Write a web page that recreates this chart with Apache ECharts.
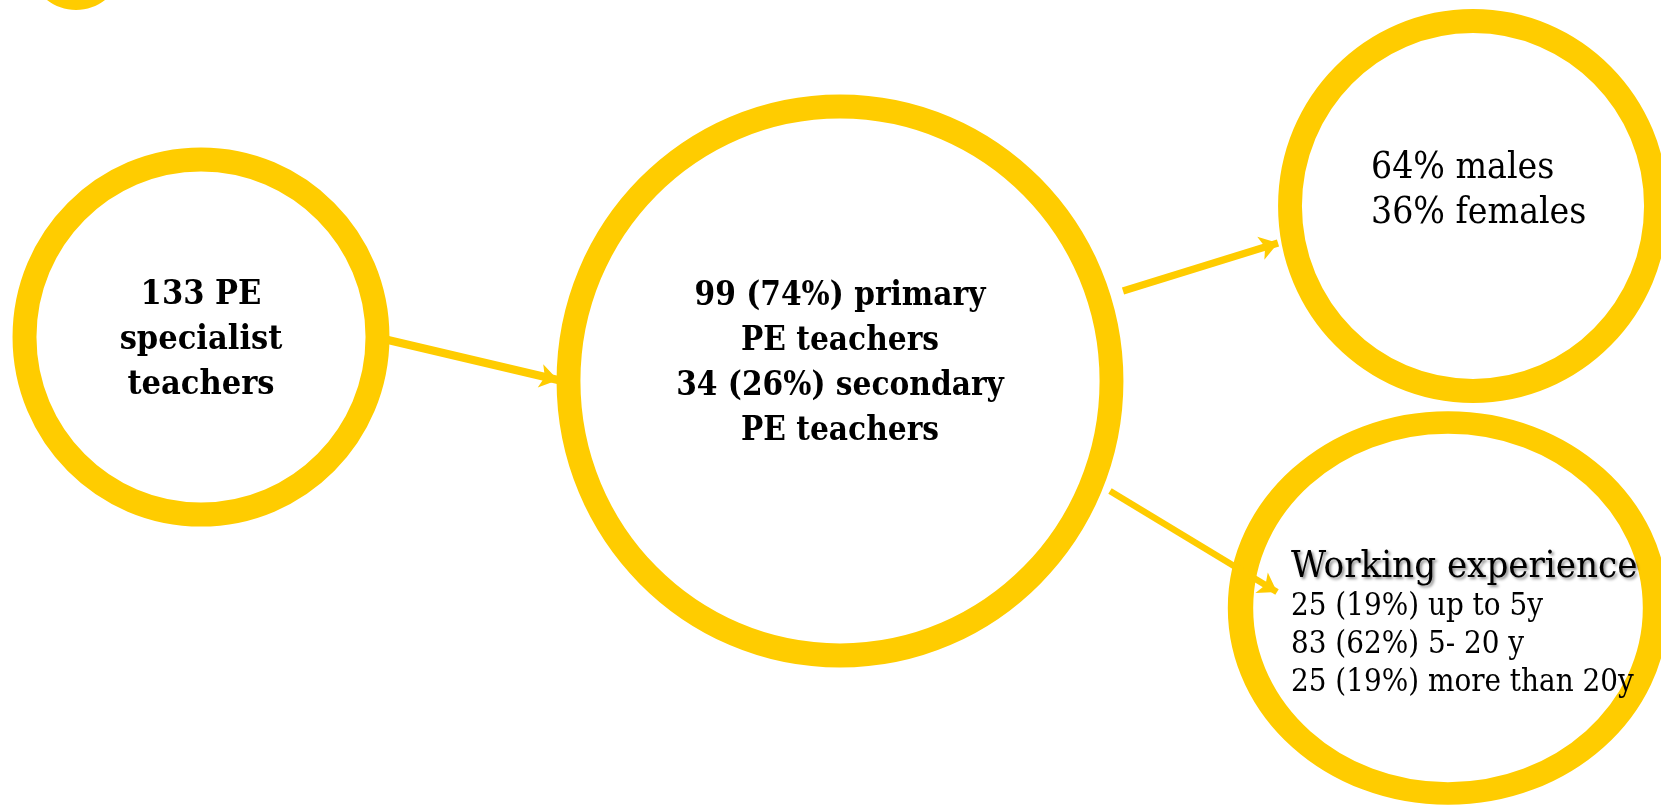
<!DOCTYPE html>
<html>
<head>
<meta charset="utf-8">
<title>PE teachers sample</title>
<script src="https://cdn.jsdelivr.net/npm/echarts@6/dist/echarts.min.js"></script>
<style>
  html, body { margin: 0; padding: 0; background: #fff; }
  #chart { width: 1661px; height: 809px; }
</style>
</head>
<body>
<div id="chart"></div>
<script>
// sample figures
const totalTeachers = 133;
const levelNames = ['primary', 'secondary'];
const levelCounts = [99, 34];
const levelShares = [74, 26];
const genderNames = ['males', 'females'];
const genderShares = [64, 36];
const experienceTitle = 'Working experience';
const experienceBands = ['up to 5y', '5- 20 y', 'more than 20y'];
const experienceCounts = [25, 83, 25];
const experienceShares = [19, 62, 19];

// diagram layout (axis units = pixels of the 1661x809 picture)
const nodeCenters = [[76, -37], [201, 337], [840, 381], [1473, 206], [1448, 608]];
const nodeSizes = [[94, 94], [353, 355], [543, 549], [366, 370], [415, 371]];
const arrowLinks = [
    [[388, 340], [558, 380]],
    [[1123, 291], [1278, 243]],
    [[1110, 491], [1277, 592]]
];
const arrowWidths = [8, 7.5, 6.5];

const YELLOW = '#FFCC00';
const FONT = "'DejaVu Serif Condensed', 'DejaVu Serif', serif";
const ELLIPSE = 'path://M1,0 C1.5523,0 2,0.4477 2,1 C2,1.5523 1.5523,2 1,2 C0.4477,2 0,1.5523 0,1 C0,0.4477 0.4477,0 1,0 Z';

let totalText = totalTeachers + ' PE\nspecialist\nteachers';
let levelText = [];
for (let i = 0; i < levelNames.length; i++) {
    levelText.push(levelCounts[i] + ' (' + levelShares[i] + '%) ' + levelNames[i]);
    levelText.push('PE teachers');
}
let genderText = [];
for (let i = 0; i < genderNames.length; i++) {
    genderText.push(genderShares[i] + '% ' + genderNames[i]);
}
let expText = ['{h|' + experienceTitle + '}'];
for (let i = 0; i < experienceBands.length; i++) {
    expText.push('{b|' + experienceCounts[i] + ' (' + experienceShares[i] + '%) ' + experienceBands[i] + '}');
}

const labels = [
    { show: false },
    {
        show: true, position: 'inside', formatter: totalText,
        fontFamily: FONT, fontWeight: 'bold', fontSize: 34, lineHeight: 45, color: '#000',
        offset: [0, 3]
    },
    {
        show: true, position: 'inside', formatter: levelText.join('\n'),
        fontFamily: FONT, fontWeight: 'bold', fontSize: 33, lineHeight: 45, color: '#000',
        offset: [0, -17]
    },
    {
        show: true, position: 'inside', formatter: genderText.join('\n'), align: 'left',
        fontFamily: FONT, fontSize: 37, lineHeight: 45, color: '#000',
        offset: [-102, -15]
    },
    {
        show: true, position: 'inside', formatter: expText.join('\n'), align: 'left',
        offset: [-157, 16],
        rich: {
            h: {
                fontFamily: FONT, fontSize: 38, lineHeight: 42, color: '#000',
                textShadowColor: 'rgba(0,0,0,0.45)', textShadowBlur: 3,
                textShadowOffsetX: 2, textShadowOffsetY: 2
            },
            b: { fontFamily: FONT, fontSize: 31, lineHeight: 38, color: '#000' }
        }
    }
];

let nodes = [];
for (let i = 0; i < nodeCenters.length; i++) {
    let filled = i === 0;
    nodes.push({
        value: nodeCenters[i],
        symbolSize: nodeSizes[i],
        itemStyle: filled
            ? { color: YELLOW, borderWidth: 0, opacity: 1 }
            : { color: '#fff', borderColor: YELLOW, borderWidth: 24, opacity: 1 },
        label: labels[i]
    });
}

let arrows = [];
for (let i = 0; i < arrowLinks.length; i++) {
    arrows.push({ coords: arrowLinks[i], lineStyle: { width: arrowWidths[i] } });
}

const chart = echarts.init(document.getElementById('chart'));
chart.setOption({
    animation: false,
    backgroundColor: '#fff',
    grid: { left: 0, right: 0, top: 0, bottom: 0 },
    xAxis: { type: 'value', min: 0, max: 1661, show: false },
    yAxis: { type: 'value', min: 0, max: 809, inverse: true, show: false },
    series: [
        {
            type: 'scatter',
            symbol: ELLIPSE,
            clip: false,
            silent: true,
            z: 2,
            itemStyle: { opacity: 1 },
            data: nodes
        },
        {
            type: 'lines',
            coordinateSystem: 'cartesian2d',
            silent: true,
            z: 3,
            symbol: ['none', 'arrow'],
            symbolSize: 18,
            lineStyle: { color: YELLOW, width: 7, opacity: 1, curveness: 0 },
            data: arrows
        }
    ]
});
</script>
</body>
</html>
